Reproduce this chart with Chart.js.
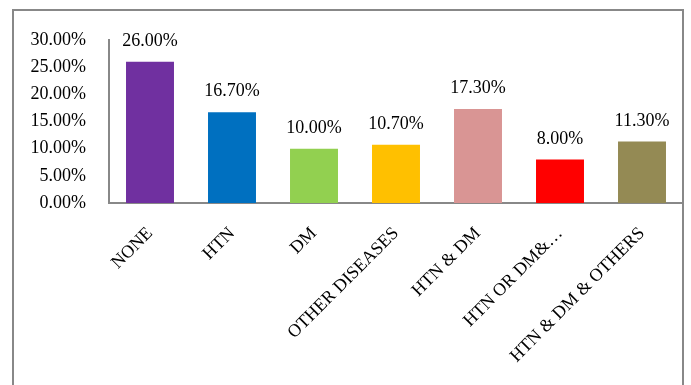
<!DOCTYPE html>
<html>
<head>
<meta charset="utf-8">
<script src="https://cdn.jsdelivr.net/npm/chart.js@4"></script>
<style>
  html, body { margin: 0; padding: 0; background: #fff; }
  #wrap { position: relative; width: 691px; height: 385px; }
</style>
</head>
<body>
<div id="wrap"><canvas id="comorbidChart"></canvas></div>
<script>
const categories = ['NONE', 'HTN', 'DM', 'OTHER DISEASES', 'HTN & DM', 'HTN OR DM&…', 'HTN & DM & OTHERS'];
const percentages = [26.0, 16.7, 10.0, 10.7, 17.3, 8.0, 11.3];
const barColors = ['#7030a0', '#0070c0', '#92d050', '#ffc000', '#d99594', '#ff0000', '#948a54'];

const FONT = "'Liberation Serif', 'Times New Roman', serif";

// frame around the whole chart
const framePlugin = {
  id: 'frame',
  beforeDraw(chart) {
    const ctx = chart.ctx;
    ctx.save();
    ctx.fillStyle = '#fff';
    ctx.fillRect(0, 0, chart.width, chart.height);
    ctx.strokeStyle = '#888';
    ctx.lineWidth = 2;
    ctx.strokeRect(13, 10, 670, 400);
    ctx.restore();
  }
};

// value labels above each bar
const valueLabels = {
  id: 'valueLabels',
  afterDatasetsDraw(chart) {
    const ctx = chart.ctx;
    const meta = chart.getDatasetMeta(0);
    ctx.save();
    ctx.font = '18px ' + FONT;
    ctx.fillStyle = '#000';
    ctx.textAlign = 'center';
    ctx.textBaseline = 'alphabetic';
    meta.data.forEach((bar, i) => {
      ctx.fillText(percentages[i].toFixed(2) + '%', bar.x, bar.y - 16);
    });
    ctx.restore();
  }
};

new Chart(document.getElementById('comorbidChart'), {
  type: 'bar',
  data: {
    labels: categories,
    datasets: [{
      data: percentages,
      backgroundColor: barColors,
      borderWidth: 0,
      categoryPercentage: 1,
      barPercentage: 0.585
    }]
  },
  options: {
    responsive: true,
    maintainAspectRatio: false,
    animation: false,
    layout: { padding: { left: 0, top: 40, right: 8, bottom: 0 } },
    plugins: {
      legend: { display: false },
      tooltip: { enabled: false }
    },
    scales: {
      y: {
        min: 0,
        max: 30,
        afterFit: (s) => { s.width = 109; },
        grid: { display: false, drawTicks: false },
        border: { display: true, color: '#888', width: 2 },
        ticks: {
          stepSize: 5,
          padding: 23,
          color: '#000',
          font: { family: FONT, size: 18 },
          callback: (v) => v.toFixed(2) + '%'
        }
      },
      x: {
        afterFit: (s) => { s.height = 182; },
        grid: { display: false, drawTicks: false },
        border: { display: true, color: '#888', width: 2 },
        ticks: {
          autoSkip: false,
          maxRotation: 45,
          minRotation: 45,
          padding: 20,
          color: '#000',
          font: { family: FONT, size: 18 }
        }
      }
    }
  },
  plugins: [framePlugin, valueLabels]
});
</script>
</body>
</html>
